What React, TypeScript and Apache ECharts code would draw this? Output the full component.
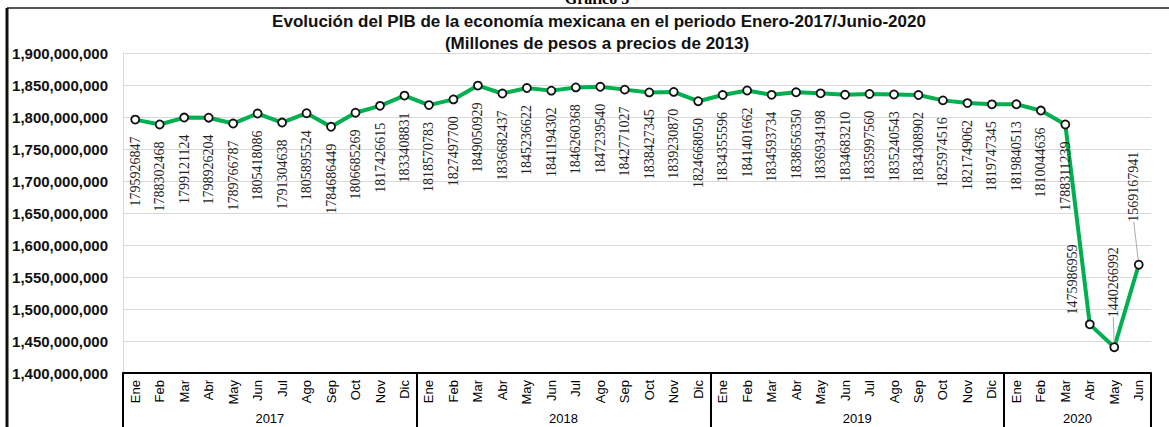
import React, { useEffect, useRef } from "react";
import * as echarts from "echarts";

const months = ["Ene", "Feb", "Mar", "Abr", "May", "Jun", "Jul", "Ago", "Sep", "Oct", "Nov", "Dic"];
const years = ["2017", "2018", "2019", "2020"];
const monthsPerYear = [12, 12, 12, 6];

const pib2017 = [1795926847, 1788302468, 1799121124, 1798926204, 1789766787, 1805418086, 1791304638, 1805895524, 1784686449, 1806685269, 1817426615, 1833408831];
const pib2018 = [1818570783, 1827497700, 1849050929, 1836682437, 1845236622, 1841194302, 1846260368, 1847239540, 1842771027, 1838427345, 1839230870, 1824668050];
const pib2019 = [1834355596, 1841401662, 1834593734, 1838656350, 1836934198, 1834683210, 1835997560, 1835240543, 1834308902, 1825974516, 1821749062, 1819747345];
const pib2020 = [1819840513, 1810044636, 1788311239, 1475986959, 1440266992, 1569167941];

const yMin = 1400000000;
const yMax = 1900000000;
const yStep = 50000000;

const titleLine1 = "Evolución del PIB de la economía mexicana en el periodo Enero-2017/Junio-2020";
const titleLine2 = "(Millones de pesos a precios de 2013)";
const caption = "Gráfico 5";

// labels drawn above the point (end of series)
const labelsAbove = [39, 40, 41];
// labels connected to their point with a leader line
const labelsWithLeader = [40, 41];

export default function App() {
  const ref = useRef<HTMLDivElement>(null);

  useEffect(() => {
    if (!ref.current) return;
    const chart = echarts.init(ref.current, null, { renderer: "svg" });

    const categories: string[] = [];
    monthsPerYear.forEach((n) => {
      for (let i = 0; i < n; i++) categories.push(months[i]);
    });
    const values = [...pib2017, ...pib2018, ...pib2019, ...pib2020];

    const data = values.map((v, i) => {
      if (labelsAbove.includes(i)) {
        return {
          value: v,
          label: { position: "top", align: "left", verticalAlign: "middle", distance: 8 },
          labelLine: { show: labelsWithLeader.includes(i) },
        };
      }
      return { value: v, labelLine: { show: false } };
    });

    // year boundaries & centers (in category units)
    const bounds: number[] = [0];
    const centers: number[] = [];
    let acc = 0;
    monthsPerYear.forEach((n) => {
      centers.push(acc + n / 2);
      acc += n;
      bounds.push(acc);
    });

    const sans = "'Liberation Sans', Arial, sans-serif";
    const serif = "'Liberation Serif', 'Times New Roman', serif";

    chart.setOption({
      animation: false,
      backgroundColor: "#ffffff",
      grid: { left: 123, right: 18, top: 53, bottom: 54, containLabel: false },
      graphic: [
        { type: "line", shape: { x1: 7, y1: 8, x2: 1169, y2: 8 }, style: { stroke: "#555", lineWidth: 2 } },
        { type: "line", shape: { x1: 7, y1: 8, x2: 7, y2: 427 }, style: { stroke: "#111", lineWidth: 3 } },
        {
          type: "text", x: 597, y: 6,
          style: { text: caption, fill: "#000", font: `bold 16px ${serif}`, textAlign: "center", textVerticalAlign: "bottom" },
        },
        {
          type: "text", x: 599, y: 21,
          style: { text: titleLine1, fill: "#111", font: `bold 17px ${sans}`, textAlign: "center", textVerticalAlign: "middle" },
        },
        {
          type: "text", x: 597, y: 43,
          style: { text: titleLine2, fill: "#111", font: `bold 17px ${sans}`, textAlign: "center", textVerticalAlign: "middle" },
        },
      ],
      xAxis: [
        {
          type: "category",
          data: categories,
          boundaryGap: true,
          axisLine: { show: true, lineStyle: { color: "#000", width: 2 } },
          axisTick: { show: false },
          axisLabel: {
            interval: 0,
            rotate: 90,
            margin: 7,
            fontSize: 13,
            fontFamily: sans,
            color: "#000",
          },
          splitLine: { show: false },
        },
        {
          type: "value",
          min: 0,
          max: bounds[bounds.length - 1],
          position: "bottom",
          offset: 0,
          axisLine: { show: false },
          splitLine: { show: false },
          axisTick: {
            show: true,
            customValues: bounds,
            length: 56,
            inside: false,
            lineStyle: { color: "#000", width: 2 },
          },
          axisLabel: {
            show: true,
            customValues: centers,
            margin: 39,
            fontSize: 13,
            fontFamily: sans,
            color: "#000",
            formatter: (v: number) => {
              const idx = centers.findIndex((c) => Math.abs(c - v) < 1e-6);
              return idx >= 0 ? years[idx] : "";
            },
          },
        },
      ],
      yAxis: {
        type: "value",
        min: yMin,
        max: yMax,
        interval: yStep,
        axisLine: { show: true, lineStyle: { color: "#d9d9d9", width: 1 } },
        axisTick: { show: false },
        splitLine: { show: true, lineStyle: { color: "#d9d9d9", width: 1 } },
        axisLabel: {
          margin: 15,
          fontSize: 15,
          fontWeight: "bold",
          fontFamily: sans,
          color: "#111",
          formatter: (v: number) => v.toLocaleString("en-US"),
        },
      },
      series: [
        {
          type: "line",
          xAxisIndex: 0,
          data,
          symbol: "circle",
          symbolSize: 8,
          showSymbol: true,
          lineStyle: { color: "#00B050", width: 4 },
          itemStyle: { color: "#ffffff", borderColor: "#111", borderWidth: 1.8 },
          label: {
            show: true,
            position: "bottom",
            rotate: 90,
            align: "right",
            verticalAlign: "middle",
            distance: 12,
            fontSize: 14,
            fontFamily: serif,
            color: "#222",
            formatter: (p: any) => String(p.value),
          },
          labelLine: { show: true, length2: 0, lineStyle: { color: "#aaa", width: 1 } },
          labelLayout: (p: any) => {
            if (p.dataIndex === 41) return { dx: 30, dy: -5 };
            if (p.dataIndex === 40) return { dx: 17, dy: -1 };
            if (p.dataIndex === 39) return { dx: -3, dy: -17 };
            return {};
          },
          z: 3,
        },
      ],
    });

    return () => chart.dispose();
  }, []);

  return (
    <div
      ref={ref}
      style={{ position: "fixed", left: 0, top: 0, width: 1169, height: 427, background: "#fff" }}
    />
  );
}
